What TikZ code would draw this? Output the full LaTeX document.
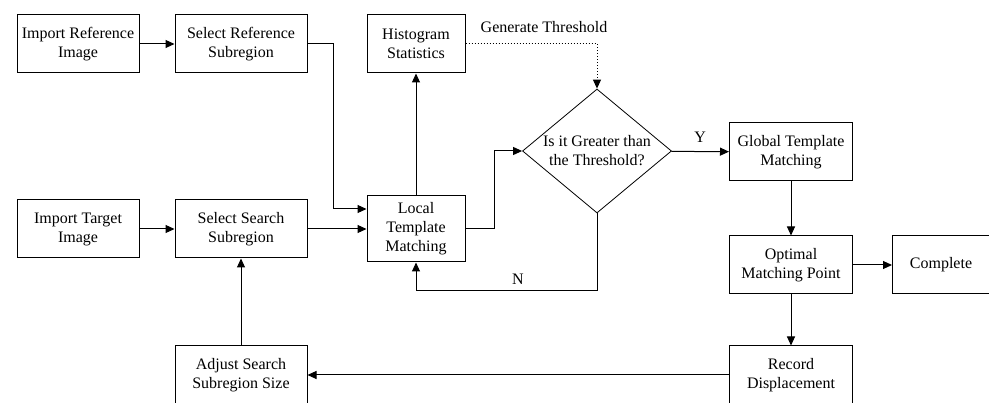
\documentclass[tikz,border=0pt]{standalone}
\usepackage{fontspec}
\setmainfont{Liberation Serif}
\usetikzlibrary{arrows.meta,shapes.geometric}
\tikzset{
  >={Triangle[length=9pt,width=8pt]},
  stepbox/.style={draw, minimum height=58pt, inner sep=0pt, align=center},
}
\begin{document}
\begin{tikzpicture}[x=1pt, y=-1pt, line width=1pt, font=\fontsize{16}{19}\selectfont]
    \useasboundingbox (0,0) rectangle (989,403);
    \node[stepbox, minimum width=122pt] (importref) at (78,44) {Import Reference\\Image};
    \node[stepbox, minimum width=132pt] (selref) at (241,44) {Select Reference\\Subregion};
    \node[stepbox, minimum width=98pt] (histo) at (416,44) {Histogram\\Statistics};
    \node[stepbox, minimum width=122pt] (importtgt) at (78,229) {Import Target\\Image};
    \node[stepbox, minimum width=132pt] (selsearch) at (241,229) {Select Search\\Subregion};
    \node[stepbox, minimum width=98pt, minimum height=66pt] (local) at (416,229) {Local\\Template\\Matching};
    \node[draw, diamond, minimum width=149pt, minimum height=124pt, inner sep=0pt, line width=0.8pt,
      label={[align=center]center:Is it Greater than\\the Threshold?}] (decide) at (597,151) {};
    \node[stepbox, minimum width=123pt] (global) at (791,152) {Global Template\\Matching};
    \node[stepbox, minimum width=123pt] (optimal) at (791,265) {Optimal\\Matching Point};
    \node[stepbox, minimum width=97pt] (complete) at (941,265) {Complete};
    \node[stepbox, minimum width=123pt] (record) at (791,375) {Record\\Displacement};
    \node[stepbox, minimum width=132pt] (adjust) at (241,375) {Adjust Search\\Subregion Size};
    \node (genlabel) at (544,27) {Generate Threshold};
    \node (nolabel) at (518,279) {N};
    \begin{scope}[->]
      \draw (importref) -- (selref);
      \draw (importtgt) -- (selsearch);
      \draw (selref.east) -- ++(26,0) |- ([yshift=20pt]local.west);
      \draw (selsearch) -- (local);
      \draw (local) -- (histo);
      \draw (local.east) -- ++(29,0) |- (decide.west);
      \draw (decide.south) -- ++(0,77) -| (local.south);
      \draw (decide) -- node[above=5pt] (yeslabel) {Y} (global);
      \draw (global) -- (optimal);
      \draw (optimal) -- (complete);
      \draw (optimal) -- (record);
      \draw (record) -- (adjust);
      \draw (adjust) -- (selsearch);
      \draw[dotted] (histo.east) -| (decide.north);
    \end{scope}
  \end{tikzpicture}
\end{document}
